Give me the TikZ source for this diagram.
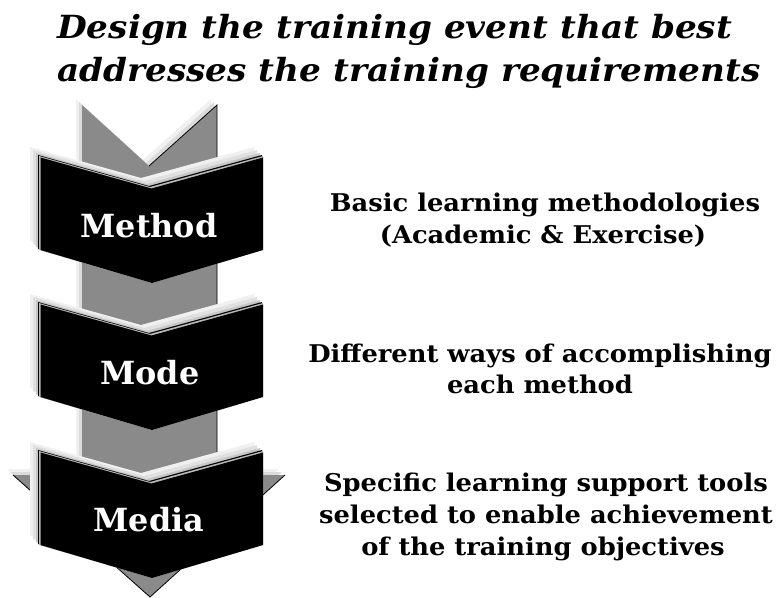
\documentclass[tikz,border=0pt]{standalone}
\usepackage{graphicx}
\usepackage{fontspec}
\setmainfont{DejaVu Serif}
\definecolor{shaftgray}{RGB}{138,138,138}
\newcommand\myTitleWide[1]{\scalebox{1.075}[1]{#1}}
\newcommand\myLblWide[1]{\scalebox{1.055}[1]{#1}}
\tikzset{
  chevron/.pic={
    \fill[gray!12] (-9,-9) -- (102,22) -- (215,-9) -- (215,85) -- (104,118) -- (-9,85) -- cycle;
    \fill[gray!24] (-6,-6) -- (105,25) -- (218,-6) -- (218,88) -- (107,121) -- (-6,88) -- cycle;
    \fill[gray!45] (-3,-3) -- (108,28) -- (221,-3) -- (221,91) -- (110,124) -- (-3,91) -- cycle;
    \fill[black] (-1,-1) -- (110,30) -- (223,-1) -- (223,93) -- (112,126) -- (-1,93) -- cycle;
    \fill[gray!55] (0,0) -- (111,31) -- (224,0) -- (224,94) -- (113,127) -- (0,94) -- cycle;
    \fill[black] (1.5,1.5) -- (112.5,32.5) -- (224,1.5) -- (224,94) -- (113,127) -- (1.5,94) -- cycle;
  },
  chevtext/.style={font=\bfseries\fontsize{32}{38}\selectfont, text=white, anchor=base, inner sep=0pt},
  lbl/.style={font=\bfseries\fontsize{24.5}{30}\selectfont, anchor=base, inner sep=0pt},
  titletext/.style={font=\bfseries\itshape\fontsize{32}{40}\selectfont, anchor=base west, inner sep=0pt},
}
\begin{document}
\begin{tikzpicture}[x=1bp,y=-1bp]
\useasboundingbox (0,0) rectangle (777,598);
% title
\node[titletext] (title1) at (57,39) {\myTitleWide{Design the training event that best}};
\node[titletext] (title2) at (57,82) {\myTitleWide{addresses the training requirements}};
% big arrow: shadows
\fill[gray!12] (76,99) -- (143,160) -- (211,99) -- (211,469) -- (279,469) -- (144,591) -- (7,469) -- (76,469) -- cycle;
\fill[gray!28] (79,102) -- (146,163) -- (214,102) -- (214,472) -- (282,472) -- (147,594) -- (10,472) -- (79,472) -- cycle;
% big arrow
\fill[shaftgray] (82,105) -- (149,166) -- (217,105) -- (217,475) -- (285,475) -- (150,597) -- (13,475) -- (82,475) -- cycle;
\draw[black, line width=0.8bp] (149,166) -- (217,105) -- (217,475);
\draw[black, line width=0.8bp] (285,475) -- (150,597) -- (13,475);
% chevrons
\pic at (39,156) {chevron};
\pic at (39,303) {chevron};
\pic at (39,451) {chevron};
\node[chevtext] (lmethod) at (149,237) {Method};
\node[chevtext] (lmode) at (150,384) {Mode};
\node[chevtext] (lmedia) at (149,531) {Media};
% descriptions
\node[lbl] (b1a) at (545,212) {\myLblWide{Basic learning methodologies}};
\node[lbl] (b1b) at (543,243) {\myLblWide{(Academic \& Exercise)}};
\node[lbl] (b2a) at (540,362) {\myLblWide{Different ways of accomplishing}};
\node[lbl] (b2b) at (540,393) {\myLblWide{each method}};
\node[lbl] (b3a) at (546,491) {\myLblWide{Specific learning support tools}};
\node[lbl] (b3b) at (546,523) {\myLblWide{selected to enable achievement}};
\node[lbl] (b3c) at (543,555) {\myLblWide{of the training objectives}};
\end{tikzpicture}
\end{document}
